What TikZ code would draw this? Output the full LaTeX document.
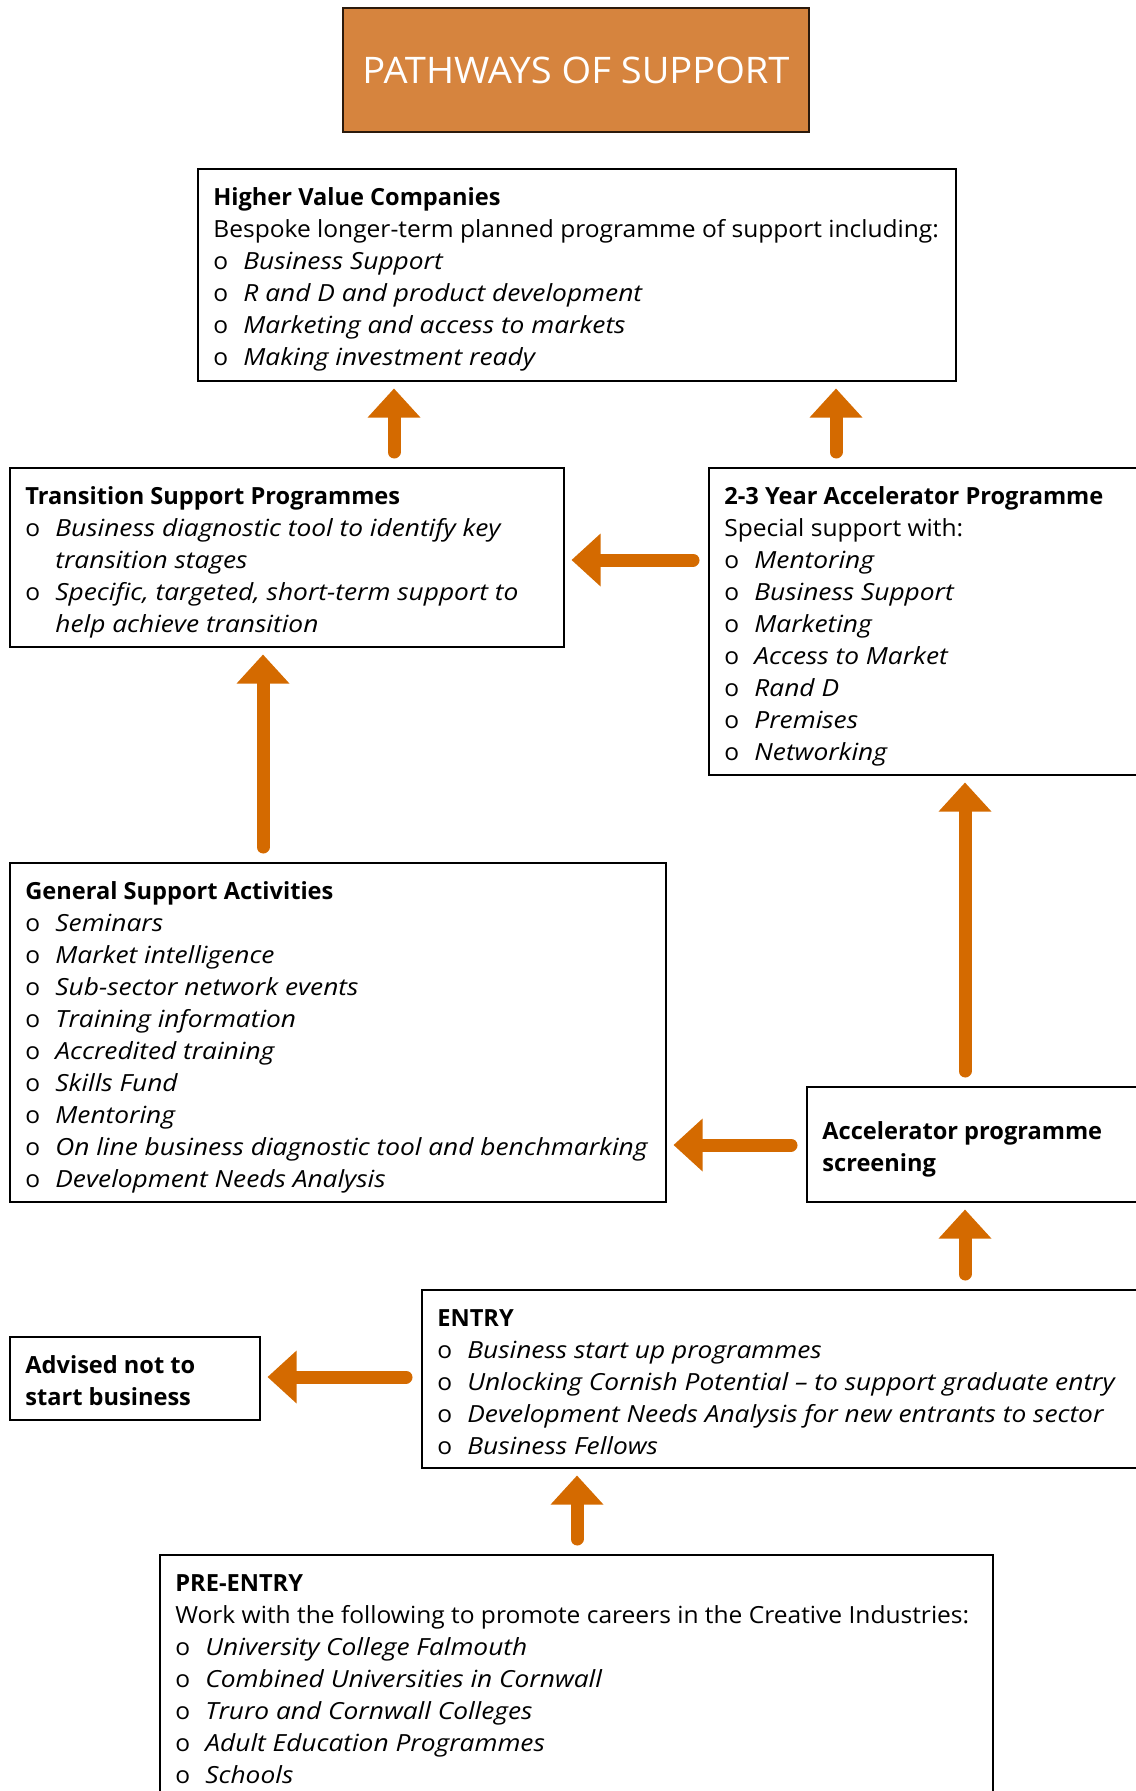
\documentclass[tikz,border=0pt]{standalone}
\usepackage{fontspec}
\setmainfont{Open Sans}[UprightFeatures={FakeStretch=1.04},ItalicFeatures={FakeStretch=1.115}]
\usetikzlibrary{positioning,arrows.meta}
\definecolor{titleor}{RGB}{214,132,62}
\definecolor{arrowor}{RGB}{212,106,0}
\newcommand{\pitem}[1]{\makebox[15pt][l]{o}\textit{#1}}
\newcommand{\pcont}[1]{\hspace*{15pt}\textit{#1}}

\begin{document}
\begin{tikzpicture}[x=0.5pt,y=-0.5pt,
    pathbox/.style={draw=black,line width=0.8pt,anchor=north west,inner sep=0pt},
    boxtext/.style={anchor=north west,inner sep=0pt,align=left,xshift=8pt,yshift=-7.3pt,font=\fontsize{11.8}{16}\selectfont},
    pathway/.style={draw=arrowor,line width=6.5pt,line cap=round,shorten <=7.5pt,shorten >=3.5pt,-{Triangle[width=26.5pt,length=14.5pt,line width=0pt]}}]
              \useasboundingbox (0,0) rectangle (1135,1791);

              \node[draw=black!80!titleor,fill=titleor,line width=0.8pt,minimum width=233pt,minimum height=62pt,inner sep=0pt,text=white,font=\fontsize{18.3}{22}\selectfont] (title) at (576,70) {PATHWAYS OF SUPPORT};

              \node[pathbox,minimum width=379pt,minimum height=106pt] (hvc) at (197,168) {};
              \node[boxtext] (hvctext) at (hvc.north west) {\strut\textbf{Higher Value Companies}\\Bespoke longer-term planned programme of support including:\\\pitem{Business Support}\\\pitem{R and D and product development}\\\pitem{Marketing and access to markets}\\\pitem{Making investment ready}};

              \node[pathbox,minimum width=277pt,minimum height=89.5pt] (tsp) at (9,467) {};
              \node[boxtext] (tsptext) at (tsp.north west) {\strut\textbf{Transition Support Programmes}\\\pitem{Business diagnostic tool to identify key}\\\pcont{transition stages}\\\pitem{Specific, targeted, short-term support to}\\\pcont{help achieve transition}};

              \node[pathbox,minimum width=218.5pt,minimum height=153.5pt] (acc) at (708,467) {};
              \node[boxtext] (acctext) at (acc.north west) {\strut\textbf{2-3 Year Accelerator Programme}\\Special support with:\\\pitem{Mentoring}\\\pitem{Business Support}\\\pitem{Marketing}\\\pitem{Access to Market}\\\pitem{Rand D}\\\pitem{Premises}\\\pitem{Networking}};

              \node[pathbox,minimum width=328pt,minimum height=169.5pt] (gsa) at (9,862) {};
              \node[boxtext] (gsatext) at (gsa.north west) {\strut\textbf{General Support Activities}\\\pitem{Seminars}\\\pitem{Market intelligence}\\\pitem{Sub-sector network events}\\\pitem{Training information}\\\pitem{Accredited training}\\\pitem{Skills Fund}\\\pitem{Mentoring}\\\pitem{On line business diagnostic tool and benchmarking}\\\pitem{Development Needs Analysis}};

              \node[pathbox,minimum width=169.5pt,minimum height=57.5pt] (scr) at (806,1086) {};
              \node[boxtext,yshift=-8pt] (scrtext) at (scr.north west) {\strut\textbf{Accelerator programme}\\\textbf{screening}};

              \node[pathbox,minimum width=362pt,minimum height=89pt] (ent) at (421,1289) {};
              \node[boxtext] (enttext) at (ent.north west) {\strut\textbf{ENTRY}\\\pitem{Business start up programmes}\\\pitem{Unlocking Cornish Potential -- to support graduate entry}\\\pitem{Development Needs Analysis for new entrants to sector}\\\pitem{Business Fellows}};

              \node[pathbox,minimum width=125pt,minimum height=41.5pt] (adv) at (9,1336) {};
              \node[boxtext] (advtext) at (adv.north west) {\strut\textbf{Advised not to}\\\textbf{start business}};

              \node[pathbox,minimum width=416.5pt,minimum height=123pt] (pre) at (159,1554) {};
              \node[boxtext] (pretext) at (pre.north west) {\strut\textbf{PRE-ENTRY}\\Work with the following to promote careers in the Creative Industries:\\\pitem{University College Falmouth}\\\pitem{Combined Universities in Cornwall}\\\pitem{Truro and Cornwall Colleges}\\\pitem{Adult Education Programmes}\\\pitem{Schools}};

              \draw[pathway] (tsp.north -| 394,0) -- (hvc.south -| 394,0);
              \draw[pathway] (acc.north -| 836,0) -- (hvc.south -| 836,0);
              \draw[pathway] (acc.west |- 0,560) -- (tsp.east |- 0,560);
              \draw[pathway] (gsa.north -| 263,0) -- (tsp.south -| 263,0);
              \draw[pathway] (scr.north -| 965,0) -- (acc.south -| 965,0);
              \draw[pathway] (scr.west |- 0,1145) -- (gsa.east |- 0,1145);
              \draw[pathway] (ent.north -| 965,0) -- (scr.south -| 965,0);
              \draw[pathway] (ent.west |- 0,1377) -- (adv.east |- 0,1377);
              \draw[pathway] (pre.north -| 577,0) -- (ent.south -| 577,0);
            \end{tikzpicture}
\end{document}
